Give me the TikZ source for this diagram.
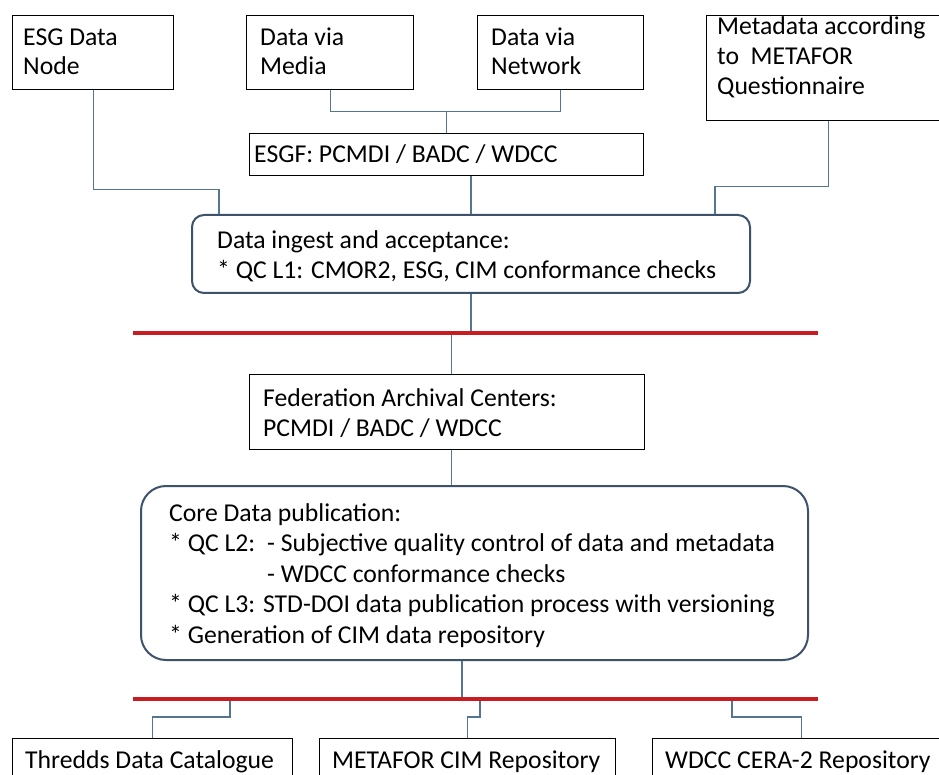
\documentclass[tikz,border=0pt]{standalone}
\usepackage{fontspec}
\setmainfont{Carlito}
\usetikzlibrary{calc}
\definecolor{connblue}{RGB}{84,118,146}
\definecolor{rboxc}{RGB}{62,82,108}
\definecolor{busred}{RGB}{200,28,32}
\begin{document}
\begin{tikzpicture}[x=1pt,y=-1pt,
  box/.style={draw=black,line width=1.2pt,rectangle,inner sep=0pt,anchor=north west},
  rbox/.style={draw=rboxc,line width=2pt,rectangle,inner sep=0pt,anchor=north west},
  conn/.style={draw=connblue,line width=1.1pt},
  bus/.style={draw=busred,line width=4pt},
  txt/.style={anchor=base west,inner sep=0pt,font=\fontsize{25.7pt}{30pt}\selectfont}]
\useasboundingbox (0,0) rectangle (939,775);
\clip (0,0) rectangle (939,775);
\fill[white] (0,0) rectangle (939,775);

% boxes
\node[box,minimum width=161pt,minimum height=74pt] (esg) at (12,15) {};
\node[box,minimum width=167pt,minimum height=74pt] (media) at (246,15) {};
\node[box,minimum width=166pt,minimum height=74pt] (network) at (477,15) {};
\node[box,minimum width=244pt,minimum height=105pt] (meta) at (706,15) {};
\node[box,minimum width=394pt,minimum height=42pt] (esgf) at (249,133) {};
\node[rbox,rounded corners=12pt,minimum width=558pt,minimum height=78pt] (ingest) at (191,214) {};
\node[box,minimum width=395pt,minimum height=75pt] (fed) at (249,374) {};
\node[rbox,rounded corners=25pt,minimum width=667pt,minimum height=174pt] (core) at (140,485) {};
\node[box,minimum width=280pt,minimum height=60pt] (thredds) at (12,738) {};
\node[box,minimum width=296pt,minimum height=60pt] (metafor) at (319,738) {};
\node[box,minimum width=298pt,minimum height=60pt] (wdcc) at (652,738) {};

% texts
\node[txt] (esgT1) at (23,46) {ESG Data};
\node[txt] (esgT2) at (23,75) {Node};
\node[txt] (mediaT1) at (260,46) {Data via};
\node[txt] (mediaT2) at (260,75) {Media};
\node[txt] (netT1) at (491,46) {Data via};
\node[txt] (netT2) at (491,75) {Network};
\node[txt] (metaT1) at (717,35) {Metadata according};
\node[txt] (metaT2) at (717,65) {to~~METAFOR};
\node[txt] (metaT3) at (717,95) {Questionnaire};
\node[txt] (esgfT) at (254,163) {ESGF: PCMDI / BADC / WDCC};
\node[txt] (ingT1) at (217,249) {Data ingest and acceptance:};
\node[txt] (ingT2) at (217,279) {* QC L1: CMOR2, ESG, CIM conformance checks};
\node[txt] (fedT1) at (263,406) {Federation Archival Centers:};
\node[txt] (fedT2) at (263,436) {PCMDI / BADC / WDCC};
\node[txt] (coreT1) at (169,521) {Core Data publication:};
\node[txt] (coreT2) at (169,551.5) {* QC L2:};
\node[txt] (coreT2b) at (267,551.5) {- Subjective quality control of data and metadata};
\node[txt] (coreT3) at (267,582) {- WDCC conformance checks};
\node[txt] (coreT4) at (169,612.5) {* QC L3: STD-DOI data publication process with versioning};
\node[txt] (coreT5) at (169,643) {* Generation of CIM data repository};
\node[txt] (thrT) at (25,768) {Thredds Data Catalogue};
\node[txt] (mfT) at (332,768) {METAFOR CIM Repository};
\node[txt] (wdT) at (665,768) {WDCC CERA-2 Repository};

% bus coordinates
\coordinate (bus1L) at (133,333);
\coordinate (bus1R) at (818,333);
\coordinate (bus2L) at (133,699);
\coordinate (bus2R) at (818,699);
\coordinate (tb) at (230,699);
\coordinate (mb) at (480,699);
\coordinate (wb) at (732,699);

% connectors
\draw[conn] (esg.south) -- ++(0,99) -| ([xshift=28pt]ingest.north west);
\draw[conn] (media.south) -- ++(0,21) coordinate (mj) -| (network.south);
\draw[conn] (esgf.north) -- (esgf.north |- mj);
\draw[conn] (ingest.north |- esgf.south) -- (ingest.north);
\draw[conn] (meta.south) -- ++(0,65) -| ([xshift=-36pt]ingest.north east);
\draw[conn] (ingest.south) -- (ingest.south |- bus1L);
\draw[conn] ([xshift=4.5pt]fed.north) -- ([xshift=4.5pt]fed.north |- bus1L);
\draw[conn] ([xshift=4.5pt]fed.south) -- ([xshift=4.5pt]fed.south |- core.north);
\draw[conn] ([xshift=-12.5pt]core.south) -- ([xshift=-12.5pt]core.south |- bus2L);
\draw[conn] (tb) -- ++(0,18) -| (thredds.north);
\draw[conn] (mb) -- ++(0,18) -| (metafor.north);
\draw[conn] (wb) -- ++(0,18) -| (wdcc.north);

% red buses
\draw[bus] (bus1L) -- (bus1R);
\draw[bus] (bus2L) -- (bus2R);
\end{tikzpicture}
\end{document}
